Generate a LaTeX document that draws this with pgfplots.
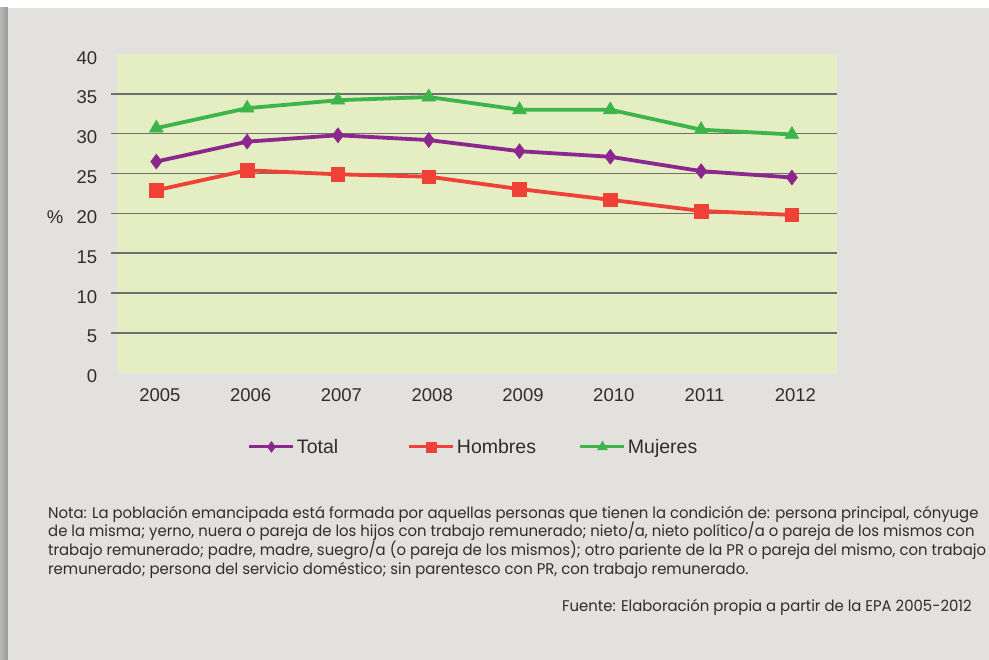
\documentclass[border=0pt]{standalone}
\usepackage{pgfplots}
\pgfplotsset{compat=1.18}
\usepackage{fontspec}
\setmainfont{Liberation Sans}
\newfontfamily\notefont[FakeStretch=0.96]{Poppins}
\definecolor{bg}{HTML}{E2E1DD}
\definecolor{plotbg}{HTML}{E5EEC2}
\definecolor{cTotal}{HTML}{8C278E}
\definecolor{cHom}{HTML}{EF4136}
\definecolor{cMuj}{HTML}{3DB54A}
\definecolor{gridc}{HTML}{6E6E6E}
\definecolor{txt}{HTML}{2E2E2E}
\begin{document}
\begin{tikzpicture}[x=1pt,y=1pt]
\begin{scope}
\clip (-117.3,372.7) rectangle (871.7,-287.3);
\begin{scope}[shift={(-117.3,372.7)}, y=-1pt]
\fill[white] (0,0) rectangle (989,660);
\fill[bg] (8,8) rectangle (989,660);
\shade[left color=gray!55, right color=gray!80] (0,8) rectangle (8,660);
\end{scope}
\begin{axis}[
  width=720pt, height=318.7pt, scale only axis,
  xmin=-0.43, xmax=7.5, ymin=0, ymax=40,
  axis background/.style={fill=plotbg},
  axis line style={draw=none},
  xtick={0,1,2,3,4,5,6,7},
  xticklabels={2005,2006,2007,2008,2009,2010,2011,2012},
  ytick={0,5,...,40},
  xtick pos=bottom, ytick pos=left,
  major tick length=0pt,
  tick label style={font=\fontsize{18.5}{20}\selectfont, text=txt, inner sep=0pt},
  /pgf/number format/assume math mode=true,
  xticklabel style={anchor=north, yshift=-15.6pt, xshift=3.5pt},
  yticklabel style={anchor=east, xshift=-20pt, yshift=-3.7pt},
  extra y ticks={5,10,...,35},
  extra y tick labels={},
  extra y tick style={grid=major, major tick length=6pt, tick align=outside,
     tick style={gridc, line width=1.5pt}},
  major grid style={gridc, line width=1.5pt},
  ylabel={\%},
  ylabel style={at={(axis description cs:-0.0865,0.4886)}, anchor=center, rotate=-90,
     font=\fontsize{18.5}{20}\selectfont, text=txt},
  legend columns=3,
  legend cell align=left,
  legend style={at={(axis description cs:0.1815,-0.233)}, anchor=west,
     draw=none, fill=none, inner sep=0pt, outer sep=0pt,
     nodes={inner sep=0pt, outer sep=0pt},
     font=\fontsize{19.5}{21}\selectfont, text=txt,
     /tikz/every odd column/.append style={column sep=2pt}},
  legend image code/.code={\draw[#1, line width=3pt, mark repeat=2, mark phase=2,
     every mark/.append style={scale=0.72}] plot coordinates {(0pt,0pt) (22pt,0pt) (44pt,0pt)};},
]
\addplot[cTotal, line width=3.8pt, mark=diamond*, mark size=7.5pt,
  mark options={solid, line width=0.5pt, fill=cTotal}] coordinates {
  (0,26.5) (1,29.0) (2,29.8) (3,29.2) (4,27.8) (5,27.1) (6,25.3) (7,24.5)};
\addlegendentry{\makebox[111pt][l]{Total}}
\addplot[cHom, line width=3.8pt, mark=square*, mark size=6.8pt,
  mark options={solid, line width=0.5pt, fill=cHom}] coordinates {
  (0,22.9) (1,25.4) (2,24.9) (3,24.6) (4,23.05) (5,21.7) (6,20.3) (7,19.8)};
\addlegendentry{\makebox[122pt][l]{Hombres}}
\addplot[cMuj, line width=3.8pt, mark=triangle*, mark size=8pt,
  mark options={solid, line width=0.5pt, fill=cMuj}] coordinates {
  (0,30.7) (1,33.2) (2,34.2) (3,34.6) (4,33.0) (5,33.0) (6,30.5) (7,29.9)};
\addlegendentry{Mujeres}
\end{axis}
\begin{scope}[shift={(-117.3,372.7)}, y=-1pt,
   every node/.style={anchor=base west, inner sep=0pt, text=txt,
   font=\notefont\fontsize{15.5}{18}\selectfont}]
\node at (48,518.3) {Nota: La población emancipada está formada por aquellas personas que tienen la condición de: persona principal, cónyuge};
\node at (48,537) {de la misma; yerno, nuera o pareja de los hijos con trabajo remunerado; nieto/a, nieto político/a o pareja de los mismos con};
\node at (48,555.7) {trabajo remunerado; padre, madre, suegro/a (o pareja de los mismos); otro pariente de la PR o pareja del mismo, con trabajo};
\node at (48,574.3) {remunerado; persona del servicio doméstico; sin parentesco con PR, con trabajo remunerado.};
\node at (562,611.7) {Fuente: Elaboración propia a partir de la EPA 2005-2012};
\end{scope}
\end{scope}
\pgfresetboundingbox
\path[use as bounding box] (-117.3,372.7) rectangle (871.7,-287.3);
\end{tikzpicture}
\end{document}
